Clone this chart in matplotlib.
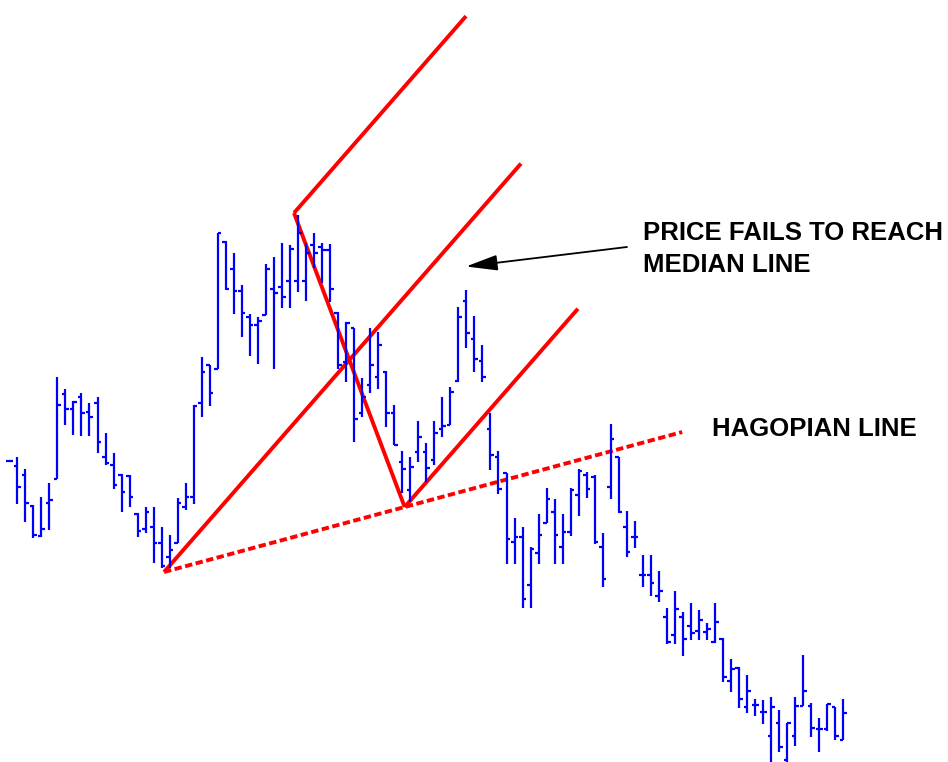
import matplotlib
matplotlib.use("Agg")
import matplotlib.pyplot as plt
import numpy as np

# ---------------- data (price = 800 - screen row) -------------
highs_px = [459.5, 456.7, 469, 505, 496.7, 482.7, 376.7, 389.3, 400.7, 392.7, 402.7, 396.7,
            432.7, 452.7, 474, 475, 513.3, 506.7, 506.7, 526.7, 535, 498.3, 482.7, 405,
            356.7, 365, 232.7, 240.7, 252.7, 285, 314, 316.7, 264.3, 256.7, 242.7, 245,
            215, 243, 232.7, 243, 244, 312.3, 321.7, 328.3, 378.3, 328.3, 331.7, 370.7,
            405, 450.7, 456.7, 420.7, 442.7, 420.7, 396.7, 386.7, 306.7, 290, 316, 345,
            413.3, 450.7, 472.7, 518.3, 526.7, 546.7, 514.3, 488.3, 499, 514.3, 488.3, 469.3,
            472.3, 475, 532.7, 424, 456.7, 510.7, 520.7, 555, 555, 570.7, 608.3, 590.7,
            611.7, 603.3, 610, 622.7, 602.7, 638.3, 659.3, 666.7, 675, 699.3, 700, 697.3,
            710, 723.3, 697.3, 655, 703.3, 718.3, 704, 707.3, 699.3]
lows_px = [462, 504, 521.7, 538.3, 536.7, 530, 479.3, 425, 435, 436, 436, 453.3,
           465, 489.3, 511.7, 507, 536.7, 533.3, 563.3, 568, 568, 543, 510, 504,
           417.3, 406, 369.3, 290, 314, 337.3, 355.7, 364, 315, 369.3, 307.7, 307.7,
           291.7, 301, 268.3, 283.3, 301.7, 369.3, 381.7, 441.7, 416.7, 393.3, 389.3, 426.7,
           445, 493.3, 501.7, 461.7, 481.7, 465, 436.7, 425, 381.7, 348.3, 371.7, 381.7,
           470, 494, 564, 564, 608.3, 608.3, 564, 523.3, 564, 564, 536, 516,
           498.3, 544, 586.7, 499.3, 513.3, 557.3, 548.3, 587.3, 596, 601.7, 644, 644,
           656, 640, 640, 640, 643.3, 681.7, 691.7, 708.3, 713.3, 716, 724, 763,
           751.7, 761.7, 746, 706, 737.3, 751.7, 730.7, 740, 740]
opens_px = [461, 465.7, 475, 506, 536, 503, 479.3, 394, 409, 396.7, 412, 402.7,
            457.3, 465, 475, 476, 514, 529.3, 526.7, 543.3, 556.7, 543, 506.7, 496.7,
            403.3, 365, 369.3, 242.3, 269.3, 290.7, 317.3, 325, 315, 289.3, 287.3, 280.7,
            280.7, 280.7, 245, 247, 250, 313, 361.7, 328.3, 413.3, 385, 377.3, 372,
            412.7, 461.7, 490, 451.7, 451.7, 460, 429.3, 425, 380.7, 300.7, 339.3, 360.7,
            429.3, 457.3, 473.3, 541.7, 536.7, 585, 553.3, 523.3, 511.7, 546.7, 531.7, 495,
            475, 477, 546.7, 487.3, 456.7, 527.3, 537.3, 575, 575, 596, 617.3, 635,
            616.7, 626, 630.7, 632, 641.7, 639.3, 680.7, 668.3, 707.3, 705, 711.7, 736,
            723.3, 760, 736, 706, 706, 729.3, 729.3, 707.3, 740]
closes_px = [460.5, 487.3, 502.7, 535, 529.3, 500, 405, 409, 402, 413.3, 416.7, 441.7,
             462.7, 485, 491.7, 496.7, 530.7, 512, 543.3, 566, 550, 503.3, 496.7, 406,
             371.7, 392.7, 232.7, 289.3, 290.7, 313.3, 325, 320.7, 269.3, 293.3, 297.3, 249.3,
             232.7, 252.7, 253.3, 250, 289.3, 365, 322.7, 419.3, 396.7, 365, 345, 412.7,
             445, 469.3, 466.7, 436.7, 468.3, 433.3, 426, 391.7, 316.7, 333.3, 359.3, 377.3,
             455, 489.3, 539.3, 536.7, 599.3, 549.3, 535, 499.3, 535, 531.7, 490, 470.7,
             489.3, 541.7, 579.3, 439.3, 511.7, 551.7, 537.3, 575, 583.3, 590.7, 641.7, 609.3,
             639.3, 633.3, 620, 629.3, 621.7, 677.3, 669.3, 699.3, 690.7, 705, 711.7, 706.7,
             746.7, 723.3, 706, 690.7, 728.3, 729.3, 704, 736, 713.3]

REF = 800.0
high = REF - np.array(highs_px)
low = REF - np.array(lows_px)
open_ = REF - np.array(opens_px)
close = REF - np.array(closes_px)
idx = np.arange(len(high))

# pitchfork pivots (bar index, price) and line end indices
pivot_idx = [19.3, 35.5, 49.3]
pivot_price = [REF - 572, REF - 213, REF - 507]
median_end = 63.8
upper_end = 56.95
lower_end = 70.9
hagopian_end = 83.9

# ---------------- figure -------------
W, H, DPI = 948, 762, 100
fig = plt.figure(figsize=(W / DPI, H / DPI), dpi=DPI)
ax = fig.add_axes([0, 0, 1, 1])
x0, dx = 9.28, 8.02
ax.set_xlim(-x0 / dx, (W - x0) / dx)
ax.set_ylim(REF - H, REF)
ax.axis("off")

blue = "#0000ff"
red = "#ff0000"
tick = 0.45
ax.vlines(idx, low, high, color=blue, lw=1.6, zorder=3)
ax.hlines(open_, idx - tick, idx, color=blue, lw=1.6, zorder=3)
ax.hlines(close, idx, idx + tick, color=blue, lw=1.6, zorder=3)

# Andrews pitchfork
p0 = np.array([pivot_idx[0], pivot_price[0]])
p1 = np.array([pivot_idx[1], pivot_price[1]])
p2 = np.array([pivot_idx[2], pivot_price[2]])
mid = (p1 + p2) / 2
slope = (mid[1] - p0[1]) / (mid[0] - p0[0])
lw_r = 2.8
ax.plot([p0[0], median_end], [p0[1], p0[1] + slope * (median_end - p0[0])], color=red, lw=lw_r, zorder=2,
        solid_capstyle="butt")
ax.plot([p1[0], upper_end], [p1[1], p1[1] + slope * (upper_end - p1[0])], color=red, lw=lw_r, zorder=2,
        solid_capstyle="butt")
ax.plot([p2[0], lower_end], [p2[1], p2[1] + slope * (lower_end - p2[0])], color=red, lw=lw_r, zorder=2,
        solid_capstyle="butt")
ax.plot([p1[0], p2[0]], [p1[1], p2[1]], color=red, lw=lw_r, zorder=2, solid_capstyle="butt")

# Hagopian line (dashed)
hslope = (p2[1] - p0[1]) / (p2[0] - p0[0])
hl, = ax.plot([p0[0], hagopian_end], [p0[1], p0[1] + hslope * (hagopian_end - p0[0])],
              color=red, lw=lw_r, zorder=2, solid_capstyle="butt", dash_capstyle="butt")
hl.set_dashes((1.9, 0.9))

# annotations
font = dict(family=["Liberation Sans", "DejaVu Sans"], fontweight="bold", fontsize=18.5, color="black")
fig.text(643 / W, 1 - 240 / H, "PRICE FAILS TO REACH", va="baseline", ha="left", **font)
fig.text(643 / W, 1 - 271.7 / H, "MEDIAN LINE", va="baseline", ha="left", **font)
fig.text(711.5 / W, 1 - 436 / H, "HAGOPIAN LINE", va="baseline", ha="left", **font)

ax.annotate("", xy=(466 / W, 1 - 266.5 / H), xycoords="figure fraction",
            xytext=(627 / W, 1 - 247 / H), textcoords="figure fraction",
            arrowprops=dict(arrowstyle="-|>,head_length=0.97,head_width=0.24",
                            mutation_scale=20, lw=1.3, color="black",
                            shrinkA=0, shrinkB=0))

fig.savefig("out.png", dpi=DPI, facecolor="white")
